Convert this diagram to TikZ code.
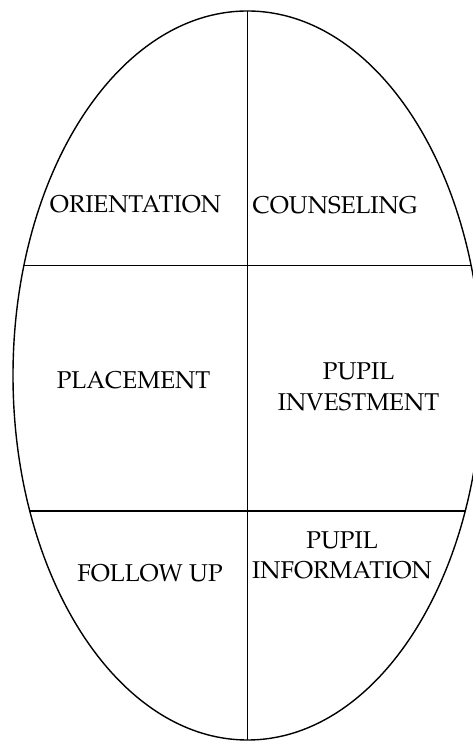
\documentclass[tikz,border=0pt]{standalone}
\usepackage[T1]{fontenc}
\renewcommand{\rmdefault}{ppl}

\begin{document}
\begin{tikzpicture}[x=1pt, y=1pt,
		part/.style={inner sep=0pt, align=center, font=\fontsize{24.3}{30.5}\selectfont}]
			\useasboundingbox (0,0) rectangle (472,741);
			% oval and dividing lines
			\draw [line width=1.4pt] (247.5,365.5) ellipse (234.5 and 364.5);
			\draw [line width=1.4pt] (247.5,730) -- (247.5,1);
			\draw [line width=1.4pt] (23.9,475.3) -- (471.1,475.3);
			\draw [line width=1.4pt] (29.8,230) -- (465.2,230);
			% labels
			\node [part] (orient) at (135.5,536.5) {ORIENTATION};
			\node [part] (counsel) at (335,536) {COUNSELING};
			\node [part] (place) at (133.5,361) {PLACEMENT};
			\node [part] (invest) at (358.5,354) {PUPIL\\INVESTMENT};
			\node [part] (follow) at (150,168) {FOLLOW UP};
			\node [part] (info) at (342,185.5) {PUPIL\\INFORMATION};
	\end{tikzpicture}
\end{document}
